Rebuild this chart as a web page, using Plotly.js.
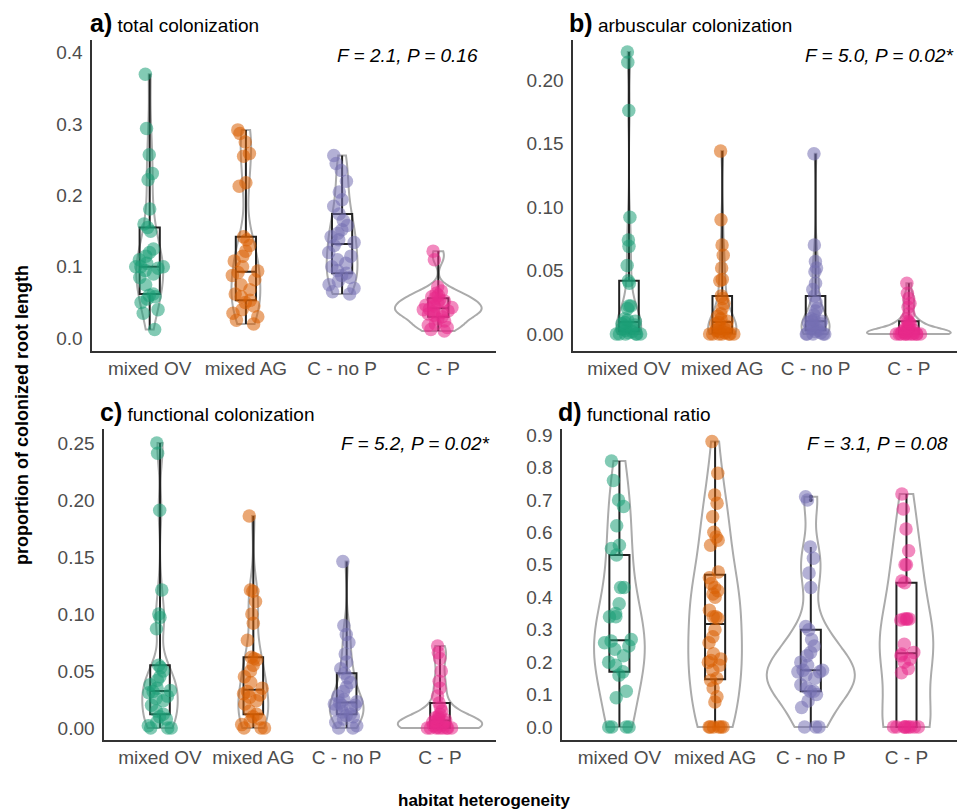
<!DOCTYPE html>
<html><head><meta charset="utf-8">
<script src="https://cdn.plot.ly/plotly-3.0.1.min.js"></script>
<style>html,body{margin:0;padding:0;background:#fff}#chart{width:957px;height:812px}</style>
</head><body><div id="chart"></div>
<script>
// ---------- categories & labels ----------
const categories = ['mixed OV', 'mixed AG', 'C - no P', 'C - P'];
const panelLetters = ['a)', 'b)', 'c)', 'd)'];
const panelTitles = ['total colonization', 'arbuscular colonization', 'functional colonization', 'functional ratio'];
const panelStats = ['F = 2.1, P = 0.16', 'F = 5.0, P = 0.02*', 'F = 5.2, P = 0.02*', 'F = 3.1, P = 0.08'];
const yTitle = 'proportion of colonized root length';
const xTitle = 'habitat heterogeneity';

// ---------- a) total colonization ----------
const totalMixedOV = [0.012, 0.035, 0.040, 0.050, 0.055, 0.058, 0.060, 0.062, 0.075, 0.085, 0.090, 0.095, 0.098, 0.100, 0.100, 0.100, 0.105, 0.110, 0.115, 0.120, 0.125, 0.150, 0.155, 0.160, 0.181, 0.222, 0.231, 0.257, 0.294, 0.370];
const totalMixedAG = [0.020, 0.025, 0.030, 0.035, 0.040, 0.045, 0.050, 0.053, 0.058, 0.062, 0.068, 0.075, 0.082, 0.088, 0.092, 0.094, 0.100, 0.108, 0.115, 0.122, 0.130, 0.138, 0.142, 0.213, 0.218, 0.255, 0.259, 0.275, 0.287, 0.292];
const totalCnoP = [0.062, 0.065, 0.070, 0.075, 0.080, 0.085, 0.088, 0.091, 0.095, 0.100, 0.105, 0.110, 0.115, 0.120, 0.130, 0.134, 0.138, 0.142, 0.147, 0.152, 0.158, 0.165, 0.174, 0.185, 0.194, 0.205, 0.220, 0.235, 0.245, 0.256];
const totalCP = [0.010, 0.012, 0.015, 0.018, 0.020, 0.024, 0.027, 0.030, 0.032, 0.034, 0.036, 0.037, 0.038, 0.040, 0.041, 0.043, 0.045, 0.046, 0.048, 0.050, 0.052, 0.054, 0.056, 0.058, 0.060, 0.063, 0.066, 0.072, 0.110, 0.122];

// ---------- b) arbuscular colonization ----------
const arbMixedOV = [0, 0, 0, 0, 0, 0, 0.001, 0.002, 0.003, 0.004, 0.005, 0.006, 0.007, 0.008, 0.009, 0.010, 0.011, 0.012, 0.020, 0.022, 0.022, 0.040, 0.042, 0.054, 0.069, 0.074, 0.092, 0.176, 0.214, 0.222];
const arbMixedAG = [0, 0, 0, 0, 0, 0, 0, 0.001, 0.002, 0.003, 0.004, 0.005, 0.006, 0.008, 0.009, 0.010, 0.012, 0.014, 0.016, 0.020, 0.024, 0.028, 0.030, 0.042, 0.043, 0.052, 0.062, 0.070, 0.090, 0.144];
const arbCnoP = [0, 0, 0, 0, 0, 0.001, 0.002, 0.003, 0.004, 0.005, 0.006, 0.007, 0.008, 0.009, 0.010, 0.010, 0.011, 0.012, 0.015, 0.018, 0.020, 0.025, 0.030, 0.035, 0.040, 0.049, 0.052, 0.057, 0.070, 0.142];
const arbCP = [0, 0, 0, 0, 0, 0, 0, 0, 0, 0, 0, 0.001, 0.001, 0.002, 0.002, 0.003, 0.003, 0.004, 0.005, 0.006, 0.008, 0.009, 0.010, 0.012, 0.016, 0.021, 0.024, 0.028, 0.032, 0.040];

// ---------- c) functional colonization ----------
const funcMixedOV = [0, 0, 0, 0.002, 0.005, 0.008, 0.010, 0.012, 0.015, 0.020, 0.024, 0.026, 0.028, 0.031, 0.032, 0.033, 0.035, 0.038, 0.042, 0.045, 0.050, 0.053, 0.055, 0.087, 0.097, 0.100, 0.121, 0.191, 0.241, 0.250];
const funcMixedAG = [0, 0, 0, 0.003, 0.006, 0.008, 0.010, 0.012, 0.015, 0.021, 0.024, 0.027, 0.029, 0.030, 0.032, 0.035, 0.040, 0.045, 0.050, 0.055, 0.060, 0.061, 0.062, 0.077, 0.092, 0.100, 0.111, 0.120, 0.121, 0.186];
const funcCnoP = [0, 0, 0.002, 0.005, 0.008, 0.010, 0.011, 0.012, 0.014, 0.016, 0.018, 0.020, 0.020, 0.021, 0.022, 0.023, 0.025, 0.028, 0.032, 0.036, 0.040, 0.044, 0.048, 0.052, 0.058, 0.065, 0.075, 0.082, 0.090, 0.146];
const funcCP = [0, 0, 0, 0, 0, 0, 0, 0, 0.001, 0.002, 0.003, 0.004, 0.005, 0.005, 0.006, 0.007, 0.008, 0.009, 0.010, 0.012, 0.015, 0.018, 0.022, 0.028, 0.035, 0.041, 0.050, 0.061, 0.066, 0.072];

// ---------- d) functional ratio ----------
const ratioMixedOV = [0, 0, 0, 0, 0.09, 0.11, 0.16, 0.17, 0.19, 0.20, 0.22, 0.24, 0.25, 0.26, 0.265, 0.27, 0.34, 0.34, 0.35, 0.38, 0.43, 0.43, 0.53, 0.55, 0.56, 0.62, 0.68, 0.70, 0.76, 0.82];
const ratioMixedAG = [0, 0, 0, 0, 0, 0, 0.077, 0.093, 0.12, 0.144, 0.15, 0.175, 0.19, 0.20, 0.205, 0.21, 0.226, 0.26, 0.278, 0.30, 0.335, 0.34, 0.34, 0.36, 0.40, 0.41, 0.42, 0.43, 0.442, 0.46, 0.478, 0.56, 0.576, 0.586, 0.60, 0.648, 0.69, 0.715, 0.782, 0.88];
const ratioCnoP = [0, 0, 0, 0.06, 0.08, 0.10, 0.11, 0.11, 0.12, 0.13, 0.15, 0.16, 0.17, 0.17, 0.175, 0.175, 0.19, 0.20, 0.22, 0.23, 0.25, 0.27, 0.30, 0.31, 0.43, 0.475, 0.52, 0.555, 0.70, 0.71];
const ratioCP = [0, 0, 0, 0, 0, 0, 0, 0, 0, 0.167, 0.18, 0.20, 0.209, 0.22, 0.225, 0.23, 0.255, 0.33, 0.333, 0.333, 0.333, 0.333, 0.445, 0.45, 0.50, 0.50, 0.543, 0.61, 0.672, 0.718];

// ---------- styles / layout geometry ----------
const W = 957, H = 812;
const groupColors = ['27,158,119', '217,95,2', '117,112,179', '231,41,138'];
// maximum violin widths (category units) as measured on the reference
const violinWidths = [
  [0.28, 0.30, 0.32, 0.90],
  [0.26, 0.30, 0.30, 0.90],
  [0.38, 0.32, 0.36, 0.90],
  [0.53, 0.56, 0.92, 0.56]
];
const panelGeom = [
  {x0: 92,  x1: 496, top: 40,  bottom: 351, xEnd: 3.6,   yRange: [-0.018, 0.418],   dtick: 0.1,  fmt: '.1f', outliers: false,
   title: [88, 23], stat: [335, 55]},
  {x0: 573, x1: 957, top: 40,  bottom: 351, xEnd: 3.516, yRange: [-0.0134, 0.2315], dtick: 0.05, fmt: '.2f', outliers: false,
   title: [567, 23], stat: [803, 55]},
  {x0: 104, x1: 496, top: 429, bottom: 740, xEnd: 3.6,   yRange: [-0.0105, 0.2623], dtick: 0.05, fmt: '.2f', outliers: false,
   title: [98, 412], stat: [339, 443]},
  {x0: 562, x1: 957, top: 429, bottom: 740, xEnd: 3.528, yRange: [-0.040, 0.9185], dtick: 0.1,  fmt: '.1f', outliers: true,
   title: [556, 412], stat: [805, 443]}
];
const panelData = [
  [totalMixedOV, totalMixedAG, totalCnoP, totalCP],
  [arbMixedOV, arbMixedAG, arbCnoP, arbCP],
  [funcMixedOV, funcMixedAG, funcCnoP, funcCP],
  [ratioMixedOV, ratioMixedAG, ratioCnoP, ratioCP]
];

// ---------- kernel bandwidth (R bw.nrd0, as ggplot's geom_violin) ----------
function q7(s, p) { const h = (s.length - 1) * p, lo = Math.floor(h), hi = Math.ceil(h); return s[lo] + (h - lo) * (s[hi] - s[lo]); }
function bwNrd0(x) {
  const s = [...x].sort((a, b) => a - b), n = x.length;
  const m = x.reduce((a, b) => a + b, 0) / n;
  const sd = Math.sqrt(x.reduce((a, b) => a + (b - m) * (b - m), 0) / (n - 1));
  let lo = Math.min(sd, (q7(s, 0.75) - q7(s, 0.25)) / 1.34);
  if (!(lo > 0)) lo = sd || Math.abs(s[0]) || 1;
  return 0.9 * lo * Math.pow(n, -0.2);
}

const FONT = 'Liberation Sans, Arial, Helvetica, sans-serif';
const traces = [];
const layout = {
  width: W, height: H, margin: {l: 0, r: 0, t: 0, b: 0},
  paper_bgcolor: '#fff', plot_bgcolor: 'rgba(0,0,0,0)',
  showlegend: false, boxmode: 'overlay', violinmode: 'overlay',
  font: {family: FONT, color: '#000'},
  annotations: []
};

panelGeom.forEach((g, pi) => {
  const sfx = pi === 0 ? '' : String(pi + 1);
  const xa = 'x' + sfx, ya = 'y' + sfx;
  layout['xaxis' + sfx] = {
    domain: [g.x0 / W, g.x1 / W], anchor: ya, type: 'category',
    categoryorder: 'array', categoryarray: categories, range: [-0.6, g.xEnd],
    showline: true, linecolor: '#333', linewidth: 1.6, ticks: '', showgrid: false, zeroline: false,
    tickfont: {size: 19, color: '#4d4d4d', family: FONT}, fixedrange: true
  };
  layout['yaxis' + sfx] = {
    domain: [1 - g.bottom / H, 1 - g.top / H], anchor: xa, range: g.yRange,
    dtick: g.dtick, tick0: 0, tickformat: g.fmt,
    showline: true, linecolor: '#333', linewidth: 1.6, ticks: '', showgrid: false, zeroline: false,
    ticklabelstandoff: 4,
    tickfont: {size: 19, color: '#4d4d4d', family: FONT}, fixedrange: true
  };

  const groups = panelData[pi];
  groups.forEach((vals, gi) => {
    const xs = vals.map(() => categories[gi]);
    traces.push({
      type: 'violin', x: xs, y: vals, xaxis: xa, yaxis: ya,
      points: false, box: {visible: false}, meanline: {visible: false},
      spanmode: 'hard', bandwidth: bwNrd0(vals), scalemode: 'width',
      width: violinWidths[pi][gi],
      line: {color: '#ababab', width: 2}, fillcolor: 'rgba(0,0,0,0)', hoverinfo: 'skip'
    });
    traces.push({
      type: 'box', x: xs, y: vals, xaxis: xa, yaxis: ya,
      boxpoints: g.outliers ? 'outliers' : false, pointpos: 0, jitter: 0,
      marker: {color: '#222', size: 4},
      width: 0.21, whiskerwidth: 0,
      line: {color: '#222', width: 2}, fillcolor: 'rgba(0,0,0,0)', hoverinfo: 'skip'
    });
    traces.push({
      type: 'box', x: xs, y: vals, xaxis: xa, yaxis: ya,
      boxpoints: 'all', pointpos: 0, jitter: 1, width: 0.32, whiskerwidth: 0,
      line: {color: 'rgba(0,0,0,0)', width: 0}, fillcolor: 'rgba(0,0,0,0)',
      marker: {color: 'rgba(' + groupColors[gi] + ',0.55)', size: 13.5, line: {width: 0}},
      hoverinfo: 'skip'
    });
  });

  layout.annotations.push({
    xref: 'paper', yref: 'paper', x: g.title[0] / W, y: 1 - g.title[1] / H,
    xanchor: 'left', yanchor: 'middle', showarrow: false,
    text: '<span style="font-size:25px"><b>' + panelLetters[pi] + '</b></span> ' + panelTitles[pi],
    font: {size: 19, color: '#000', family: FONT}
  });
  layout.annotations.push({
    xref: 'paper', yref: 'paper', x: g.stat[0] / W, y: 1 - g.stat[1] / H,
    xanchor: 'left', yanchor: 'middle', showarrow: false,
    text: '<i>' + panelStats[pi] + '</i>',
    font: {size: 19, color: '#000', family: FONT}
  });
});

layout.annotations.push({
  xref: 'paper', yref: 'paper', x: 22 / W, y: 1 - 415 / H, textangle: -90,
  xanchor: 'center', yanchor: 'middle', showarrow: false,
  text: '<b>' + yTitle + '</b>', font: {size: 18, color: '#000', family: FONT}
});
layout.annotations.push({
  xref: 'paper', yref: 'paper', x: 484 / W, y: 1 - 800 / H,
  xanchor: 'center', yanchor: 'middle', showarrow: false,
  text: '<b>' + xTitle + '</b>', font: {size: 17, color: '#000', family: FONT}
});

Plotly.newPlot('chart', traces, layout, {staticPlot: true, displayModeBar: false});
</script>
</body></html>
